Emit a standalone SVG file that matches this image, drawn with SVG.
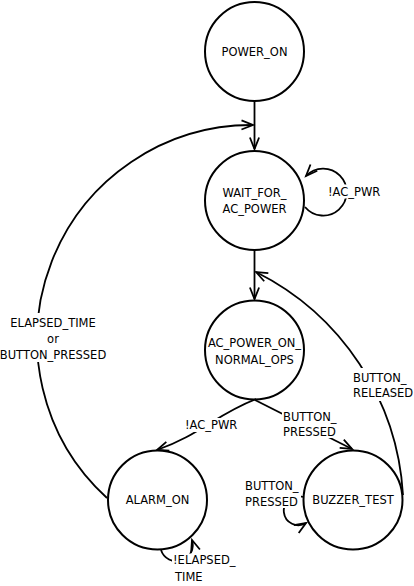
<svg xmlns="http://www.w3.org/2000/svg" width="414" height="586" viewBox="0 0 414 586">
<style>
.node circle{fill:none;stroke:#000;stroke-width:2}
.edge{fill:none;stroke:#000;stroke-width:1.8}
text{font-family:"DejaVu Sans","Liberation Sans",sans-serif;font-size:11.5px;fill:#000}
.c{text-anchor:middle}
.bg{fill:#fff;stroke:none}
</style>
<defs>
<marker id="arr" markerUnits="userSpaceOnUse" markerWidth="16" markerHeight="14" viewBox="-13 -7 16 14" refX="0" refY="0" orient="auto">
<path d="M-11.5,-4.6 L0,0 L-11.5,4.6" fill="none" stroke="#000" stroke-width="1.8"/>
</marker>
</defs>
<rect width="414" height="586" fill="#fff"/>
<g id="connectors">
<path class="edge" d="M254.5,101 L254.5,149" marker-end="url(#arr)"/>
<path class="edge" d="M254.5,250 L254.5,299" marker-end="url(#arr)"/>
<path class="edge" d="M107,498 A214.5,214.5 0 0 1 253,125" marker-end="url(#arr)"/>
<path class="edge" d="M305,207 A23.5,23.5 0 1 0 306,176" marker-end="url(#arr)"/>
<path class="edge" d="M256,399 C215,415 200,435 157,450" marker-end="url(#arr)"/>
<path class="edge" d="M255,400 L352,449" marker-end="url(#arr)"/>
<path class="edge" d="M403,495 A267,267 0 0 0 256,272" marker-end="url(#arr)"/>
<path class="edge" d="M303,497 A14.5,14.5 0 1 0 306,523" marker-end="url(#arr)"/>
<path class="edge" d="M161,550 A16,16 0 1 0 192,540" marker-end="url(#arr)"/>
</g>
<g id="labels">
<rect class="bg" x="0" y="313" width="109" height="49"/>
<text class="c" x="53" y="326.5">ELAPSED_TIME</text>
<text class="c" x="53" y="342.5">or</text>
<text class="c" x="53" y="358.5">BUTTON_PRESSED</text>
<rect class="bg" x="326" y="184.5" width="56" height="14"/>
<text x="328" y="195.5">!AC_PWR</text>
<rect class="bg" x="184" y="418" width="56" height="14"/>
<text x="185" y="429">!AC_PWR</text>
<rect class="bg" x="282" y="409" width="58" height="29"/>
<text x="283" y="421">BUTTON_</text>
<text x="283" y="436">PRESSED</text>
<rect class="bg" x="352" y="368" width="60" height="33"/>
<text x="353" y="381.5">BUTTON_</text>
<text x="353" y="397">RELEASED</text>
<rect class="bg" x="244" y="478" width="57" height="30"/>
<text x="245" y="490">BUTTON_</text>
<text x="245" y="505.5">PRESSED</text>
<rect class="bg" x="172" y="553.5" width="68" height="32.5"/>
<text x="173" y="563.5">!ELAPSED_</text>
<text x="175" y="580.5">TIME</text>
</g>
<g id="POWER_ON" class="node">
<circle cx="254.5" cy="51.5" r="49.5"/>
<text class="c" x="254.5" y="56">POWER_ON</text>
</g>
<g id="WAIT_FOR_AC_POWER" class="node">
<circle cx="254.5" cy="200.5" r="49.5"/>
<text class="c" x="254.5" y="197">WAIT_FOR_</text>
<text class="c" x="254.5" y="213">AC_POWER</text>
</g>
<g id="AC_POWER_ON_NORMAL_OPS" class="node">
<circle cx="254.5" cy="350" r="49.5"/>
<text class="c" x="254.5" y="347">AC_POWER_ON_</text>
<text class="c" x="254.5" y="364">NORMAL_OPS</text>
</g>
<g id="ALARM_ON" class="node">
<circle cx="157.5" cy="500" r="49.5"/>
<text class="c" x="157.5" y="504">ALARM_ON</text>
</g>
<g id="BUZZER_TEST" class="node">
<circle cx="353" cy="500" r="49.5"/>
<text class="c" x="353" y="504">BUZZER_TEST</text>
</g>
</svg>
